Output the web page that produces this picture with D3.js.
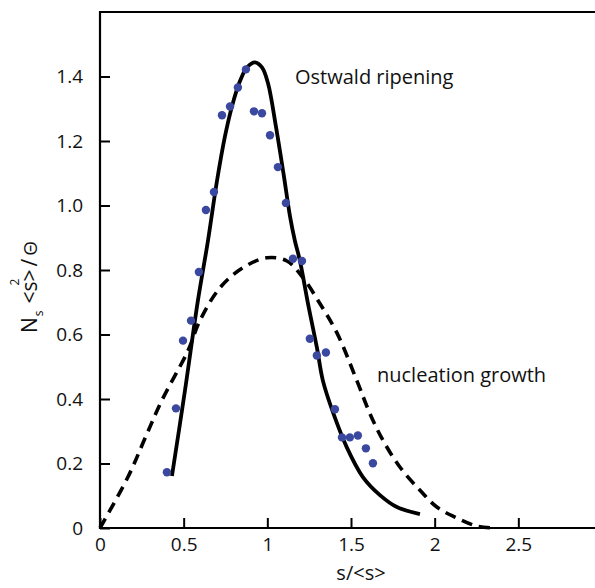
<!DOCTYPE html>
<html><head><meta charset="utf-8">
<script src="https://cdn.jsdelivr.net/npm/d3@7"></script>
<style>body{margin:0;background:#fff}svg{display:block}text{font-family:"Open Sans",sans-serif;fill:#111}</style>
</head><body><svg id="c" width="595" height="588"></svg>
<script>
const xTicks=[0,0.5,1,1.5,2,2.5];
const xTickLabels=["0","0.5","1","1.5","2","2.5"];
const yTicks=[0,0.2,0.4,0.6,0.8,1.0,1.2,1.4];
const yTickLabels=["0","0.2","0.4","0.6","0.8","1.0","1.2","1.4"];
// measured points
const ptX=[0.40,0.454,0.496,0.544,0.591,0.633,0.681,0.729,0.777,0.824,0.872,0.92,0.968,1.016,1.063,1.111,1.153,1.207,1.254,1.296,1.35,1.404,1.446,1.493,1.541,1.589,1.631];
const ptY=[0.173,0.371,0.581,0.643,0.794,0.986,1.042,1.280,1.307,1.366,1.422,1.292,1.286,1.218,1.119,1.008,0.835,0.828,0.587,0.535,0.544,0.368,0.281,0.281,0.287,0.247,0.201];
// Ostwald ripening curve
const owX=[0.430,0.508,0.585,0.645,0.699,0.747,0.789,0.836,0.878,0.926,0.968,1.004,1.051,1.099,1.135,1.165,1.195,1.243,1.296,1.332,1.392,1.475,1.571,1.673,1.774,1.912];
const owY=[0.161,0.427,0.705,0.890,1.076,1.215,1.308,1.385,1.428,1.444,1.428,1.379,1.246,1.091,0.968,0.890,0.828,0.696,0.560,0.457,0.359,0.250,0.158,0.102,0.065,0.043];
// nucleation growth curve
const ngX=[0,0.167,0.269,0.370,0.526,0.597,0.717,0.854,0.998,1.117,1.213,1.314,1.416,1.535,1.613,1.691,1.792,1.912,2.013,2.133,2.252,2.36];
const ngY=[0,0.158,0.278,0.396,0.550,0.643,0.745,0.807,0.838,0.828,0.776,0.696,0.605,0.457,0.355,0.272,0.189,0.117,0.065,0.031,0.006,0.0];

const svg=d3.select("#c");
const x=d3.scaleLinear().domain([0,3]).range([100,602]);
const y=d3.scaleLinear().domain([0,1.6]).range([528,12]);

// frame
svg.append("path").attr("d",`M${x(3)+5},${y(1.6)}H${x(0)}V${y(0)}H${x(3)+5}`)
  .attr("fill","none").attr("stroke","#000").attr("stroke-width",2.2);

const xa=svg.append("g").attr("transform",`translate(0,${y(0)})`)
  .call(d3.axisBottom(x).tickValues(xTicks).tickFormat((d,i)=>xTickLabels[i]).tickSizeInner(-10).tickSizeOuter(0).tickPadding(10));
xa.select(".domain").remove();
xa.selectAll("line").attr("stroke","#000").attr("stroke-width",2);
xa.selectAll("text").attr("font-size",19).attr("font-family","Open Sans").attr("fill","#111");

const ya=svg.append("g").attr("transform",`translate(${x(0)},0)`)
  .call(d3.axisLeft(y).tickValues(yTicks).tickFormat((d,i)=>yTickLabels[i]).tickSizeInner(-10).tickSizeOuter(0).tickPadding(17));
ya.select(".domain").remove();
ya.selectAll("line").attr("stroke","#000").attr("stroke-width",2);
ya.selectAll("text").attr("font-size",19).attr("font-family","Open Sans").attr("fill","#111");

const line=d3.line().x(d=>x(d[0])).y(d=>y(d[1])).curve(d3.curveCatmullRom.alpha(0.5));
svg.append("path").datum(ngX.map((v,i)=>[v,ngY[i]])).attr("d",line)
  .attr("fill","none").attr("stroke","#000").attr("stroke-width",3.6).attr("stroke-dasharray","11,7");
svg.append("path").datum(owX.map((v,i)=>[v,owY[i]])).attr("d",line)
  .attr("fill","none").attr("stroke","#000").attr("stroke-width",3.8);

svg.append("g").selectAll("circle").data(ptX.map((v,i)=>[v,ptY[i]])).join("circle")
  .attr("cx",d=>x(d[0])).attr("cy",d=>y(d[1])).attr("r",4.2).attr("fill","#3b48a0");

svg.append("text").attr("x",295).attr("y",84).attr("font-size",20).text("Ostwald ripening");
svg.append("text").attr("x",377).attr("y",382).attr("font-size",20).text("nucleation growth");
svg.append("text").attr("x",361).attr("y",580).attr("text-anchor","middle").attr("font-size",20).text("s/<s>");

const yl=svg.append("text").attr("transform","translate(37,333) rotate(-90)").attr("text-anchor","start").attr("font-size",21);
yl.append("tspan").text("N");
yl.append("tspan").attr("font-size",12).attr("dy",6).attr("dx",1).text("s");
yl.append("tspan").attr("dy",-6).attr("dx",7).text("<s>");
yl.append("tspan").attr("font-size",12).attr("dy",-18).attr("dx",-16).text("2");
yl.append("tspan").attr("dy",18).attr("dx",12).text("/");
yl.append("tspan").attr("font-size",19).attr("dx",3).text("Θ");
</script></body></html>
